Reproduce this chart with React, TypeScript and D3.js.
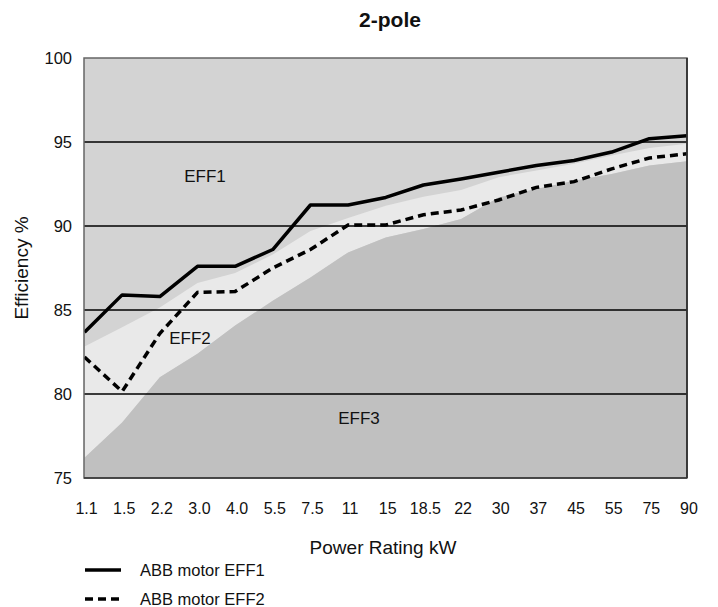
import React from "react";
import * as d3 from "d3";

const categories = ["1.1","1.5","2.2","3.0","4.0","5.5","7.5","11","15","18.5","22","30","37","45","55","75","90"];
const abbEff1 = [83.67,85.9,85.8,87.6,87.6,88.6,91.25,91.25,91.7,92.44,92.8,93.2,93.6,93.9,94.4,95.2,95.37];
const abbEff2 = [82.2,80.15,83.6,86.05,86.1,87.5,88.6,90.06,90.06,90.67,90.95,91.55,92.3,92.64,93.4,94.05,94.3];
const eff1Lower = [82.83,83.97,85.15,86.6,87.2,88.3,89.7,90.48,91.2,91.74,92.14,92.9,93.3,93.7,94.2,94.64,94.9];
const eff2Lower = [76.2,78.3,81.0,82.4,84.07,85.55,86.94,88.43,89.32,89.82,90.42,91.7,92.2,92.7,93.1,93.6,93.85];
const yTicks = [75,80,85,90,95,100];
const gridValues = [80,85,90,95];

const FONT = "'Liberation Sans', Arial, Helvetica, sans-serif";

export default function App() {
  const W = 718, H = 607;
  const left = 84, right = 687, top = 58, bottom = 478;
  const x = d3.scalePoint<string>().domain(categories).range([left + 0.5, right]);
  const y = d3.scaleLinear().domain([75, 100]).range([bottom, top]);

  const idx = categories.map((_, i) => i);
  const xi = (i: number) => x(categories[i]) as number;

  const bandArea = d3.area<number>()
    .x(i => xi(i))
    .y0(i => y(eff2Lower[i]))
    .y1(i => y(eff1Lower[i]))
    .curve(d3.curveLinear);
  const bottomArea = d3.area<number>()
    .x(i => xi(i))
    .y0(() => y(75))
    .y1(i => y(eff2Lower[i]))
    .curve(d3.curveLinear);
  const line1 = d3.line<number>().x(i => xi(i)).y(i => y(abbEff1[i]));
  const line2 = d3.line<number>().x(i => xi(i)).y(i => y(abbEff2[i]));

  return (
    <svg width={W} height={H} style={{ position: "absolute", left: 0, top: 0, background: "#fff" }} fontFamily={FONT}>
      <defs>
        <clipPath id="plotclip">
          <rect x={left} y={top} width={right - left} height={bottom - top} />
        </clipPath>
      </defs>
      <text x={390} y={27} textAnchor="middle" fontSize={21} fontWeight="bold" fill="#111">2-pole</text>

      <g clipPath="url(#plotclip)">
        <rect x={left} y={top} width={right - left} height={bottom - top} fill="#d3d3d3" />
        <path d={bandArea(idx) || ""} fill="#e9e9e9" />
        <path d={bottomArea(idx) || ""} fill="#c0c0c0" />
        {gridValues.map(v => (
          <line key={v} x1={left} x2={right} y1={y(v)} y2={y(v)} stroke="#000" strokeWidth={1.3} />
        ))}
        <path d={line2(idx) || ""} fill="none" stroke="#000" strokeWidth={3.5} strokeDasharray="8,5" />
        <path d={line1(idx) || ""} fill="none" stroke="#000" strokeWidth={3.5} strokeLinejoin="round" />
      </g>
      <rect x={left} y={top} width={right - left} height={bottom - top} fill="none" stroke="#666" strokeWidth={1.5} />
      <line x1={right} x2={right} y1={top} y2={bottom} stroke="#222" strokeWidth={1.5} />
      <line x1={left} x2={right} y1={bottom} y2={bottom} stroke="#333" strokeWidth={1.5} />

      <text x={205} y={182} textAnchor="middle" fontSize={17} fill="#111">EFF1</text>
      <text x={190} y={344} textAnchor="middle" fontSize={17} fill="#111">EFF2</text>
      <text x={359} y={424} textAnchor="middle" fontSize={17} fill="#111">EFF3</text>

      {yTicks.map(v => (
        <text key={v} x={72} y={y(v) + 6} textAnchor="end" fontSize={16.5} fill="#111">{v}</text>
      ))}
      {categories.map(c => (
        <text key={c} x={(x(c) as number) + 2} y={514} textAnchor="middle" fontSize={16} fill="#111">{c}</text>
      ))}

      <text transform={`translate(28,268) rotate(-90)`} textAnchor="middle" fontSize={19} fill="#111">Efficiency %</text>
      <text x={383} y={554} textAnchor="middle" fontSize={19} fill="#111">Power Rating kW</text>

      <line x1={85} x2={121} y1={570} y2={570} stroke="#000" strokeWidth={3.5} />
      <text x={140} y={576} fontSize={16.5} fill="#111">ABB motor EFF1</text>
      <line x1={85} x2={121} y1={599} y2={599} stroke="#000" strokeWidth={3.5} strokeDasharray="8,5" />
      <text x={140} y={605} fontSize={16.5} fill="#111">ABB motor EFF2</text>
    </svg>
  );
}
